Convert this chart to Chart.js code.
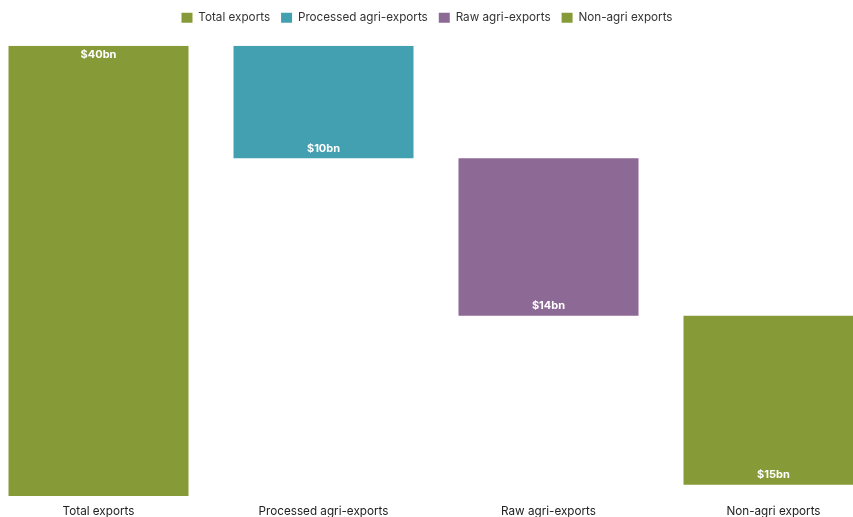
<!DOCTYPE html>
<html>
<head>
<meta charset="utf-8">
<script src="https://cdn.jsdelivr.net/npm/chart.js@4.4.1/dist/chart.umd.min.js"></script>
<style>
  html, body { margin: 0; padding: 0; background: #fff; overflow: hidden; }
  #wrap { position: relative; width: 900px; height: 517px; margin-left: -14px; }
</style>
</head>
<body>
<div id="wrap"><canvas id="chart"></canvas></div>
<script>
// ---- DATA ----
const categories = ['Total exports', 'Processed agri-exports', 'Raw agri-exports', 'Non-agri exports'];
const amounts = [40, 10, 14, 15];          // $bn, as labelled
const barStarts = [0, 40, 30, 16];         // waterfall: where each bar starts
const barEnds = [40, 30, 16, 1];           // and where it ends
const colors = ['#869b37', '#43a0b0', '#8d6996', '#869b37'];

// one dataset per category so each gets its own legend entry
const datasets = categories.map((name, i) => ({
    label: name,
    data: categories.map((_, j) => (j === i ? [barStarts[i], barEnds[i]] : null)),
    backgroundColor: colors[i],
    borderWidth: 0,
    grouped: false,
    barPercentage: 0.8,
    categoryPercentage: 1
}));

// value labels drawn inside the "end" of each bar
const valueLabels = {
    id: 'valueLabels',
    afterDatasetsDraw(chart) {
        const ctx = chart.ctx;
        ctx.save();
        ctx.font = 'bold 11px Inter, sans-serif';
        ctx.fillStyle = '#ffffff';
        ctx.textAlign = 'center';
        ctx.textBaseline = 'middle';
        chart.data.datasets.forEach((ds, i) => {
            const el = chart.getDatasetMeta(i).data[i];
            if (!el) return;
            const top = Math.min(el.y, el.base);
            const bottom = Math.max(el.y, el.base);
            const y = barEnds[i] > barStarts[i] ? top + 9 : bottom - 10;
            ctx.fillText('$' + amounts[i] + 'bn', el.x, y);
        });
        ctx.restore();
    }
};

// legend tweaks: a bit more room below it, centred on the visible page
const legendTweak = {
    id: 'legendTweak',
    beforeInit(chart) {
        const fit = chart.legend.fit;
        chart.legend.fit = function () {
            fit.call(this);
            this.height += 12;
        };
    },
    afterLayout(chart) {
        chart.legend.left -= 9;
        chart.legend.right -= 9;
    }
};

new Chart(document.getElementById('chart'), {
    type: 'bar',
    data: { labels: categories, datasets: datasets },
    options: {
        responsive: true,
        maintainAspectRatio: false,
        animation: false,
        layout: { padding: { top: 1, bottom: -9 } },
        scales: {
            x: {
                grid: { display: false, drawTicks: false },
                border: { display: false },
                ticks: {
                    color: '#222',
                    font: { family: 'Inter, sans-serif', size: 11.7 },
                    padding: 8
                }
            },
            y: {
                display: false,
                min: 0,
                max: 40
            }
        },
        plugins: {
            legend: {
                position: 'top',
                labels: {
                    boxWidth: 11,
                    boxHeight: 10,
                    padding: 11,
                    color: '#333',
                    font: { family: 'Inter, sans-serif', size: 11.7 }
                }
            },
            tooltip: { enabled: false }
        }
    },
    plugins: [valueLabels, legendTweak]
});
</script>
</body>
</html>
